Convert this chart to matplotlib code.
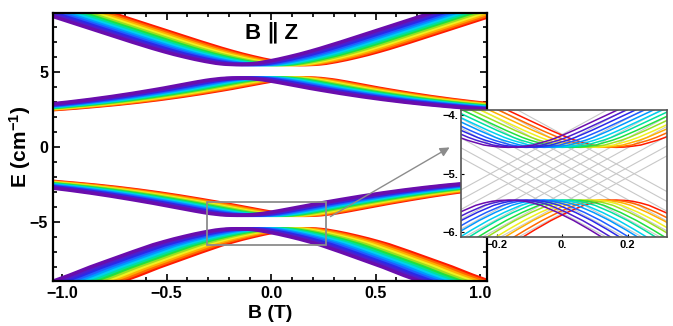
import numpy as np
import matplotlib.pyplot as plt
from matplotlib.patches import Rectangle, FancyArrowPatch
from matplotlib.ticker import MultipleLocator, FixedLocator

plt.rcParams['font.family'] = ['Liberation Sans', 'DejaVu Sans']
plt.rcParams['font.weight'] = 'bold'
plt.rcParams['mathtext.fontset'] = 'custom'
plt.rcParams['mathtext.rm'] = 'Liberation Sans:bold'
plt.rcParams['mathtext.bf'] = 'Liberation Sans:bold'
plt.rcParams['mathtext.default'] = 'bf'

# B-field position of each level's crossing (purple ... red)
centers = [-0.165, -0.1375, -0.11, -0.0825, -0.055, -0.0275, 0.0,
           0.0275, 0.055, 0.0825, 0.11, 0.1375, 0.165]
colors = ['#6a0dad', '#4b1fd0', '#2a2ae8', '#1f5fff', '#0099ff', '#00d0f0',
          '#00e0a0', '#20e040', '#9be020', '#f0f020', '#ffb000', '#ff6a00',
          '#ff1a00']

# crossing points of the uncoupled (grey) levels in the inset
grey_centers = [-0.22, -0.165, -0.11, -0.055, 0.0, 0.055, 0.11, 0.165, 0.22]
diabatic_center = -5.0
diabatic_slope = 3.05

# distance from crossing (T), one half of each branch (mirror symmetric)
x_half = [0, 0.025, 0.05, 0.075, 0.1, 0.125, 0.15, 0.175, 0.2, 0.25, 0.3,
          0.35, 0.4, 0.5, 0.6, 0.7, 0.8, 0.9, 1.0, 1.1, 1.2, 1.3]
# energies of the four branches (cm^-1)
e_top = [5.5, 5.505, 5.52, 5.55, 5.59, 5.65, 5.71, 5.78, 5.85, 6.01, 6.18,
         6.37, 6.57, 7.0, 7.45, 7.9, 8.35, 8.8, 9.25, 9.7, 10.15, 10.6]
e_upmid = [4.6, 4.595, 4.58, 4.56, 4.52, 4.48, 4.43, 4.37, 4.31, 4.18, 4.05,
           3.92, 3.8, 3.57, 3.36, 3.17, 3.0, 2.85, 2.72, 2.6, 2.5, 2.4]
e_lowmid = [-4.55, -4.545, -4.53, -4.51, -4.47, -4.43, -4.38, -4.32, -4.26,
            -4.13, -4.0, -3.87, -3.74, -3.5, -3.27, -3.06, -2.87, -2.7,
            -2.55, -2.42, -2.3, -2.2]
e_bottom = [-5.45, -5.455, -5.47, -5.5, -5.54, -5.6, -5.66, -5.73, -5.8,
            -5.96, -6.13, -6.32, -6.52, -7.0, -7.5, -8.0, -8.55, -9.05,
            -9.5, -9.95, -10.4, -10.85]
branches = [e_top, e_upmid, e_lowmid, e_bottom]


def full(v, sign=1):
    v = np.asarray(v, dtype=float)
    return np.concatenate([sign * v[::-1], v[1:]])


x_full = full(x_half, -1)

fig = plt.figure(figsize=(6.73, 3.26), dpi=100)
ax = fig.add_axes([0.0788, 0.138, 0.645, 0.822])

for e in branches:
    e_full = full(e)
    for b, c in zip(centers[::-1], colors[::-1]):
        ax.plot(x_full + b, e_full, color=c, lw=2.6, solid_capstyle='butt')

ax.set_xlim(-1.043, 1.034)
ax.set_ylim(-8.93, 8.93)
ax.xaxis.set_major_locator(MultipleLocator(0.5))
ax.xaxis.set_minor_locator(MultipleLocator(0.1))
ax.yaxis.set_major_locator(MultipleLocator(5))
ax.yaxis.set_minor_locator(MultipleLocator(1))
ax.tick_params(which='both', direction='in', top=True, right=True,
               labelsize=11.5, width=1.2)
ax.tick_params(which='major', length=5)
ax.tick_params(which='minor', length=3)
for lab in ax.get_xticklabels() + ax.get_yticklabels():
    lab.set_fontweight('bold')
for s in ax.spines.values():
    s.set_linewidth(1.6)
ax.set_xlabel('B (T)', fontsize=14, fontweight='bold', labelpad=3)
ax.set_ylabel(r'E (cm$^{-1}$)', fontsize=15, fontweight='bold', labelpad=-2)
ax.text(0.0, 7.6, 'B \u2225 Z', fontsize=16, fontweight='bold',
        ha='center', va='center', family=['Liberation Sans', 'DejaVu Sans'])

# zoom rectangle
ax.add_patch(Rectangle((-0.305, -6.5), 0.567, 2.86, fill=False,
                       edgecolor='#8c8c8c', lw=1.3, zorder=5))

# inset
axi = fig.add_axes([0.685, 0.273, 0.306, 0.39])
axi.set_facecolor('white')
bb = np.array([-0.4, 0.4])
for b in grey_centers:
    axi.plot(bb, diabatic_center + diabatic_slope * (bb - b), color='#c8c8c8', lw=0.8)
    axi.plot(bb, diabatic_center - diabatic_slope * (bb - b), color='#c8c8c8', lw=0.8)
for e in [e_lowmid, e_bottom]:
    e_full = full(e)
    for b, c in zip(centers[::-1], colors[::-1]):
        axi.plot(x_full + b, e_full, color=c, lw=1.1)
axi.set_xlim(-0.31, 0.32)
axi.set_ylim(-6.08, -3.91)
axi.xaxis.set_major_locator(FixedLocator([-0.2, 0.0, 0.2]))
axi.yaxis.set_major_locator(FixedLocator([-6, -5, -4]))
axi.set_xticklabels(['\u22120.2', '0.', '0.2'])
axi.set_yticklabels(['\u22126.', '\u22125.', '\u22124.'])
axi.tick_params(direction='in', length=2, labelsize=8, pad=2, width=0.8)
for lab in axi.get_xticklabels() + axi.get_yticklabels():
    lab.set_fontweight('bold')
for s in axi.spines.values():
    s.set_linewidth(1.2)
    s.set_color('#555555')

# arrow from rectangle to inset
arr = FancyArrowPatch((328 / 673, 1 - 218 / 326), (452 / 673, 1 - 146 / 326),
                      transform=fig.transFigure, arrowstyle='-|>',
                      mutation_scale=14, color='#8c8c8c', lw=1.0)
fig.patches.append(arr)

fig.savefig('out.png', dpi=100)
